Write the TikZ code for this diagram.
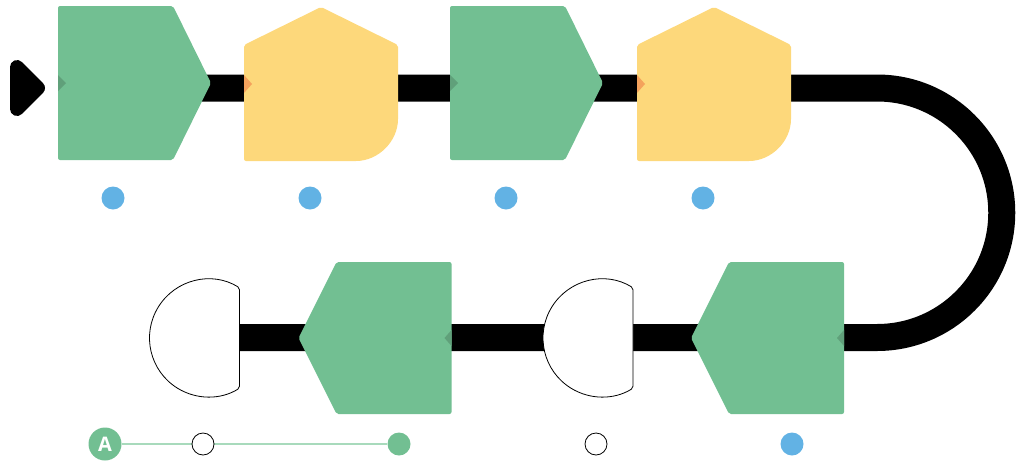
\documentclass[tikz,border=0pt]{standalone}
\usepackage{fontspec}
\setsansfont{Open Sans}
\usetikzlibrary{backgrounds}
\definecolor{stationGreen}{RGB}{114,191,146}
\definecolor{stationYellow}{RGB}{253,216,123}
\definecolor{stationBlue}{RGB}{98,178,228}
\definecolor{notchGreen}{RGB}{96,160,122}
\definecolor{notchOrange}{RGB}{244,162,92}
\definecolor{linkGreen}{RGB}{168,218,188}

\begin{document}
\begin{tikzpicture}[x=1pt, y=-1pt,
    station/.style={inner sep=0pt, outer sep=0pt, minimum width=153pt, minimum height=154pt},
    gate/.style={inner sep=0pt, outer sep=0pt, minimum width=90pt, minimum height=118pt},
    dot/.style={circle, inner sep=0pt, minimum size=23pt},
    hollow/.style={dot, draw=black, fill=white, line width=0.8pt, minimum size=22pt},
    track/.style={line width=27pt, black},
    link/.style={line width=1.2pt, linkGreen}]
    \useasboundingbox (0,0) rectangle (1024,466);

    % Stations on the track
    \node[station] (g1) at (134.5,83) {};
    \node[station, minimum width=154pt] (y1) at (321,84) {};
    \node[station] (g2) at (526.5,83) {};
    \node[station, minimum width=154pt] (y2) at (714,84) {};
    \node[station, minimum height=152pt] (g4) at (767.5,338) {};
    \node[gate] (h2) at (588,338) {};
    \node[station, minimum height=152pt] (g3) at (375,338) {};
    \node[gate] (h1) at (194.5,338) {};

    \foreach \n in {g1,g2} {
        \fill[stationGreen, rounded corners=2pt, shift={(\n.north west)}] (0,0) -- (115,0) -- (153,77) -- (115,154) -- (0,154) -- cycle;
        \fill[notchGreen, shift={(\n.north west)}] (0,69) -- (8,77) -- (0,85) -- cycle;
    }
    \foreach \n in {y1,y2} {
        \fill[stationYellow, rounded corners=2pt, shift={(\n.north west)}] (0,38) -- (77,0) -- (154,38) -- (154,110) arc[start angle=0, end angle=90, radius=44] -- (0,154) -- cycle;
        \fill[notchOrange, shift={(\n.north west)}] (0,68) -- (8,77) -- (0,86) -- cycle;
    }
    \foreach \n in {g3,g4} {
        \fill[stationGreen, rounded corners=2pt, shift={(\n.north west)}] (38,0) -- (153,0) -- (153,152) -- (38,152) -- (0,76) -- cycle;
        \fill[notchGreen, shift={(\n.north west)}] (153,68) -- (146,76) -- (153,84) -- cycle;
    }
    \foreach \n in {h1,h2}
        \filldraw[fill=white, draw=black, line width=0.8pt, rounded corners=2pt, shift={(\n.north west)}] (90,8.8) arc[start angle=-58.3, end angle=-301.7, radius=59] -- cycle;

    % Start marker
    \filldraw[line width=14pt, line join=round] (17,67) -- (38,88) -- (17,109) -- cycle;

    % Markers
    \foreach \x [count=\i] in {113,310,506,703}
        \node[dot, fill=stationBlue] (d\i) at (\x,198) {};
    \node[circle, fill=stationGreen, text=white, inner sep=0pt, minimum size=33pt, font=\sffamily\bfseries\fontsize{20}{20}\selectfont] (a) at (105,444) {A};
    \node[hollow] (e1) at (203,444) {};
    \node[dot, fill=stationGreen] (e2) at (399,444) {};
    \node[hollow] (e3) at (596,444) {};
    \node[dot, fill=stationBlue] (e4) at (792,444) {};

    \begin{scope}[on background layer]
        \coordinate (in) at (100,88);
        \coordinate (turn) at (877,88);
        \coordinate (out) at (877,337.5);
        \draw[track] (in) -- (turn) arc[start angle=-90, end angle=90, radius=124.75] -- (h1.center |- out);
        \draw[link] (a) -- (e2);
    \end{scope}
\end{tikzpicture}
\end{document}
